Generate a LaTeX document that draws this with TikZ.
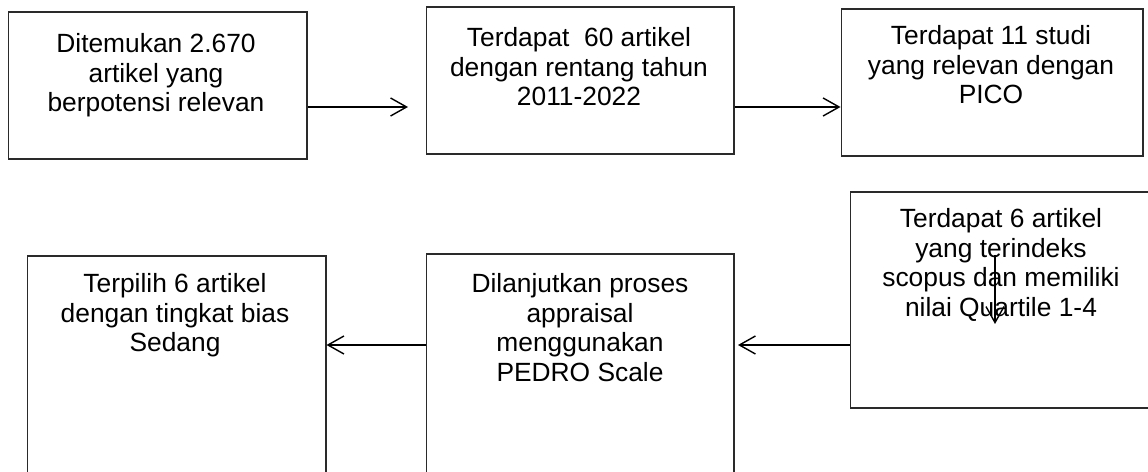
\documentclass[tikz,border=0pt]{standalone}
\usepackage{fontspec}
\setmainfont{Liberation Sans}
\usepackage{tikz}
\usetikzlibrary{arrows.meta,positioning}
\definecolor{Ink}{HTML}{000000}
\definecolor{Frame}{HTML}{2A2A2A}

\begin{document}
\begin{tikzpicture}[
  x=0.02cm,y=-0.02cm,
  box/.style={draw=Frame,line width=0.6pt,rectangle,inner sep=0pt},
  txt/.style={anchor=north,align=center,inner sep=0pt,color=Ink,
    font=\fontsize{15}{16.9}\selectfont},
  arr/.style={-{Straight Barb[length=3.2mm,width=3.6mm]},line width=0.8pt,color=Ink}
]
\useasboundingbox (0,0) rectangle (1148,472);
\clip (0,0) rectangle (1148,472);
% Top row.
\node[box,minimum width=5.98cm,minimum height=2.94cm] (b1) at (157.5,85.5) {};
\node[box,minimum width=6.16cm,minimum height=2.94cm] (b2) at (580,80.5) {};
\node[box,minimum width=6.04cm,minimum height=2.94cm] (b3) at (992,82.5) {};
\node[txt] (t1) at (156,33) {Ditemukan 2.670\\artikel yang\\berpotensi relevan};
\node[txt] (t2) at (579,27) {Terdapat\ \ 60 artikel\\dengan rentang tahun\\2011-2022};
\node[txt] (t3) at (991,25) {Terdapat 11 studi\\yang relevan dengan\\PICO};

% Bottom row, right to left.
\node[box,minimum width=6.2cm,minimum height=4.32cm] (b4) at (1005,300) {};
\node[box,minimum width=6.16cm,minimum height=4.92cm] (b5) at (580,377) {};
\node[box,minimum width=5.98cm,minimum height=4.88cm] (b6) at (176.5,378) {};
\node[txt] (t4) at (1001,208) {Terdapat 6 artikel\\yang terindeks\\scopus dan memiliki\\nilai Quartile 1-4};
\node[txt] (t5) at (580,273) {Dilanjutkan proses\\appraisal\\menggunakan\\PEDRO Scale};
\node[txt] (t6) at (175,273) {Terpilih 6 artikel\\dengan tingkat bias\\Sedang};

% Connectors.
\coordinate (r1) at (0,107);
\coordinate (r2) at (0,345);
\coordinate (e1) at (408,107);
\coordinate (e3) at (738,345);
\coordinate (v1) at (995,255);
\coordinate (v2) at (995,324);
\draw[arr] (b1.east |- r1) -- (e1);
\draw[arr] (b2.east |- r1) -- (b3.west |- r1);
\draw[arr] (v1) -- (v2);
\draw[arr] (b4.west |- r2) -- (e3);
\draw[arr] (b5.west |- r2) -- (b6.east |- r2);
\end{tikzpicture}
\end{document}
